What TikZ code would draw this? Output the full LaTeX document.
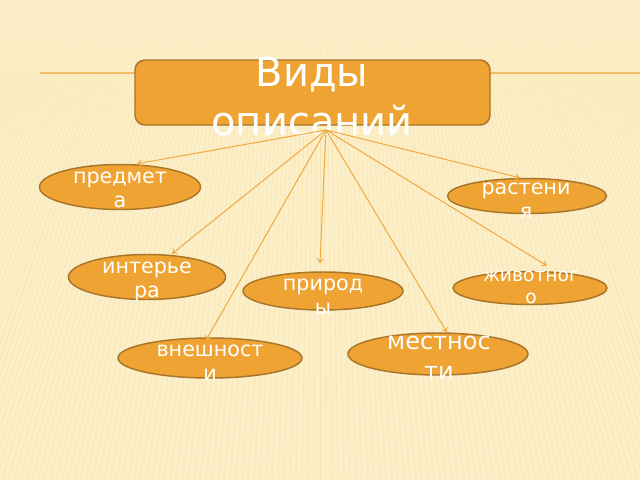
\documentclass[tikz,border=0pt]{standalone}
\usepackage{fontspec}
\setmainfont{DejaVu Sans}
\usetikzlibrary{arrows.meta,shapes.geometric,calc}
\definecolor{bgc}{HTML}{FCEFC8}
\definecolor{stripe}{HTML}{EBD08C}
\definecolor{orangef}{HTML}{EEA332}
\definecolor{orangeb}{HTML}{A8752A}
\definecolor{linec}{HTML}{EFA940}
\definecolor{hline}{HTML}{F2BE68}
\tikzset{
  ellip/.style={ellipse, draw=orangeb, line width=1.1pt, fill=orangef, inner sep=0pt},
  lbl/.style={text=white, align=center, inner sep=0pt, font=\fontsize{15.5}{18}\selectfont},
  conn/.style={draw=linec, line width=0.75pt, -{To[length=3.5pt,width=5pt]}},
}
\begin{document}
\begin{tikzpicture}[x=0.75pt,y=-0.75pt]
\useasboundingbox (0,0) rectangle (640,480);
\fill[bgc] (0,0) rectangle (640,480);
\foreach \ya/\yb/\op in {30/45/0.08, 45/60/0.16, 60/75/0.25, 75/480/0.33} {
  \begin{scope}
  \clip (0,\ya) rectangle (640,\yb);
  \foreach \i in {-160,...,160} {
    \draw[stripe, opacity=\op, line width=0.5pt] (320,-600) -- ({320+\i*6},480);
  }
  \end{scope}
}
\draw[hline, line width=0.9pt] (40,73) -- (640,73);
% title
\node[draw=orangeb, line width=1.1pt, fill=orangef, rounded corners=7.5pt,
      minimum width=266.25pt, minimum height=48.75pt, inner sep=0pt] (title) at (312.5,92.5) {};
\node[text=white, align=center, inner sep=0pt, font=\fontsize{30}{36.75}\selectfont] (titletext) at (312,97) {Виды\\описаний};
\coordinate (apex) at (326,130);
% ellipses
\node[ellip, minimum width=120.75pt, minimum height=33.75pt] (pred) at (120,187) {};
\node[ellip, minimum width=119.25pt, minimum height=26.25pt] (rast) at (527,196) {};
\node[ellip, minimum width=117.75pt, minimum height=33.75pt] (inter) at (147,277) {};
\node[ellip, minimum width=120pt, minimum height=28.5pt] (prir) at (323,291) {};
\node[ellip, minimum width=115.5pt, minimum height=24.75pt] (zhiv) at (530,288) {};
\node[ellip, minimum width=138pt, minimum height=30pt] (vnesh) at (210,358) {};
\node[ellip, minimum width=135pt, minimum height=31.5pt] (mest) at (438,354) {};
% labels
\node[lbl] (predt) at (120,190) {предмет\\а};
\node[lbl] (rastt) at (526,201) {растени\\я};
\node[lbl] (intert) at (147,281.5) {интерье\\ра};
\node[lbl] (prirt) at (323,297) {природ\\ы};
\node[lbl, font=\fontsize{14}{16}\selectfont] (zhivt) at (531,287.5) {животног\\о};
\node[lbl] (vnesht) at (210,363) {внешност\\и};
\node[lbl, font=\fontsize{18}{22.5}\selectfont] (mestt) at (439,358) {местнос\\ти};
% connectors
\draw[conn] (apex) -- ($(pred.north)+(17,0)$);
\draw[conn] (apex) -- ($(rast.north)+(-7,0)$);
\draw[conn] (apex) -- ($(inter.north)+(25,0)$);
\draw[conn] (apex) -- ($(prir.north)+(-3,-8)$);
\draw[conn] (apex) -- ($(zhiv.north)+(17,-5)$);
\draw[conn] (apex) -- ($(vnesh.north)+(-4,3)$);
\draw[conn] (apex) -- ($(mest.north)+(9,0)$);
\end{tikzpicture}
\end{document}
